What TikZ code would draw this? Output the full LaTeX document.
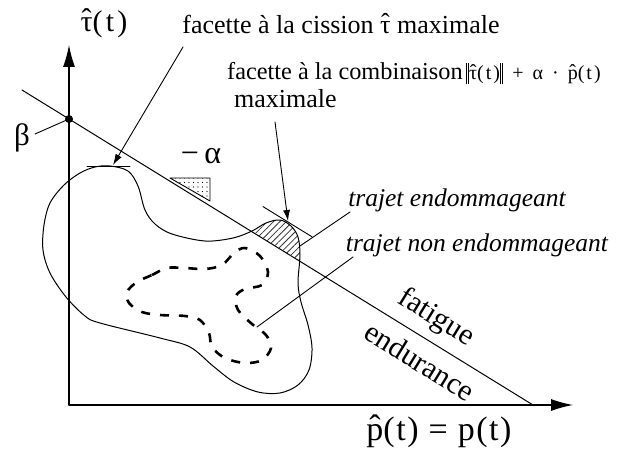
\documentclass[tikz,border=0pt]{standalone}
\usepackage{fontspec}
\setmainfont{Liberation Serif}
\usetikzlibrary{arrows.meta,patterns.meta}

% hat over a letter, double bar for the norm
\newcommand\hatof[1]{{\ooalign{#1\cr\hidewidth\raisebox{0.06em}{ˆ}\hidewidth\cr}}}
\newcommand\dbar{\rule[-0.22em]{0.05em}{1.05em}\kern0.07em\rule[-0.22em]{0.05em}{1.05em}}

\begin{document}
\begin{tikzpicture}[x=1pt, y=-1pt, line cap=round, line join=round,
  axis/.style={line width=1.2pt, -{Latex[length=22pt,width=12pt]}},
  curve/.style={line width=1pt},
  leader/.style={line width=0.9pt},
  pointer/.style={line width=0.9pt, -{Latex[length=11pt,width=7pt]}},
  txt/.style={inner sep=0pt, font=\fontsize{26}{30}\selectfont},
  itxt/.style={inner sep=0pt, font=\fontsize{25.5}{30}\selectfont\itshape},
  big/.style={inner sep=0pt, font=\fontsize{31}{34}\selectfont}]
\useasboundingbox (0,0) rectangle (620,457);
% Axes
\coordinate (O) at (69,405);
\coordinate (ytip) at (69,45);
\coordinate (xtip) at (573,405);
\draw[axis] (O) -- (ytip);
\draw[axis] (O) -- (xtip);
\node[big, font=\fontsize{30}{34}\selectfont\addfontfeature{LetterSpace=11}] (taulab) at (104,24) {\hatof{τ}(t)};
\node[big, font=\fontsize{34}{38}\selectfont\addfontfeature{LetterSpace=4.5}] (plab) at (439,432) {\hatof{p}(t) = p(t)};
% Limit line of slope -alpha
\coordinate (lineA) at (22,90);
\coordinate (lineB) at (533,405);
\draw[curve] (lineA) -- (lineB);
\coordinate (beta0) at (69,119);
\fill (beta0) circle (4);
\node[big] (betalab) at (22,138) {β};
\coordinate (betafoot) at (35,134);
\draw[leader] (betafoot) -- (beta0);
% Slope triangle
\coordinate (triA) at (170,178);
\coordinate (triB) at (210,178);
\coordinate (triC) at (210,201);
\draw[leader, pattern={Dots[distance=4.5pt, radius=0.65pt]}] (triA) -- (triB) -- (triC) -- cycle;
\node[big, font=\fontsize{32}{34}\selectfont] (alphalab) at (201,156) {−\,α};
% Damaging path and its cut above the line
\def\blobpath{plot[smooth cycle, tension=0.55] coordinates {
  (110,166) (128,171) (138,186) (145,210) (155,224) (172,234) (205,241)
  (233,238) (252,231) (266,223) (280,220) (291,226) (298,237) (300,255)
  (298,283) (301,302) (308,325) (312,348) (309,370) (298,385) (280,393)
  (258,392) (234,382) (213,366) (190,347) (160,338) (100,323) (85,316)
  (66,297) (50,273) (43,250) (44,225) (50,203) (64,185) (80,173) (95,167)}}
\begin{scope}
  \clip \blobpath;
  \fill[pattern={Lines[angle=45, distance=4.5pt, line width=0.8pt]}, pattern color=black!80]
    (lineA) -- (lineB) -- (620,405) -- (620,0) -- cycle;
\end{scope}
\draw[curve] \blobpath;
% Non damaging path
\draw[line width=2.6pt, line cap=butt, dash pattern=on 9pt off 10pt]
  plot[smooth cycle, tension=0.55] coordinates {
  (137,282) (152,275) (167,268) (185,268) (205,269) (222,265) (234,253)
  (245,248) (260,256) (268,272) (262,285) (245,289) (236,296) (238,310)
  (252,324) (266,335) (271,348) (262,360) (245,363) (225,358) (212,347)
  (209,333) (200,320) (185,316) (160,315) (142,312) (129,303) (127,292)};
% Tangents
\coordinate (tanA) at (87,166);
\coordinate (tanB) at (130,166);
\draw[leader] (tanA) -- (tanB);
\coordinate (tanC) at (263,206.6);
\coordinate (tanD) at (312,236.8);
\draw[leader] (tanC) -- (tanD);
% Labels and pointers
\node[txt] (cission) at (341,24) {facette à la cission \hatof{τ} maximale};
\coordinate (cisfoot) at (183,47);
\coordinate (cistop) at (113,165);
\draw[pointer] (cisfoot) -- (cistop);
\node[txt, anchor=base west, font=\fontsize{24.3}{30}\selectfont] (combi) at (227,80)
  {facette à la combinaison\kern3pt{\fontsize{20}{22}\selectfont\addfontfeature{LetterSpace=10}%
   \dbar\hatof{τ}(t)\dbar\hspace{0.45em}+\hspace{0.45em}α\hspace{0.45em}·\hspace{0.45em}\hatof{p}(t)}};
\node[txt, anchor=base west] (combimax) at (234,108) {maximale};
\coordinate (maxfoot) at (275,122);
\coordinate (maxtop) at (288,221);
\draw[pointer] (maxfoot) -- (maxtop);
\node[itxt] (endo) at (457,200) {trajet endommageant};
\coordinate (endofoot) at (350,212);
\coordinate (endoend) at (300,246);
\draw[leader] (endofoot) -- (endoend);
\node[itxt] (nonendo) at (477,245) {trajet non endommageant};
\coordinate (nonfoot) at (353,257);
\coordinate (nonend) at (257,327);
\draw[leader] (nonfoot) -- (nonend);
\node[txt, font=\fontsize{30}{32}\selectfont, rotate=-31.6] (fatig) at (436,318) {fatigue};
\node[txt, font=\fontsize{30}{32}\selectfont, rotate=-31.6] (endur) at (420,361) {endurance};
\end{tikzpicture}
\end{document}
